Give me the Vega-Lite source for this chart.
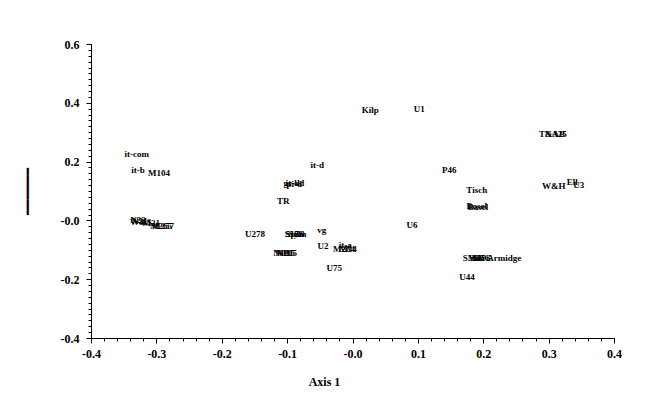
{
  "$schema": "https://vega.github.io/schema/vega-lite/v6.json",
  "autosize": "none",
  "width": 523,
  "height": 294,
  "padding": {"left": 91, "top": 44, "right": 50, "bottom": 75},
  "background": "white",
  "config": {"view": {"stroke": null}},
  "data": {"values": [
    {"label": "it-com", "x": -0.330, "y": 0.226},
    {"label": "it-b", "x": -0.328, "y": 0.171},
    {"label": "M104", "x": -0.296, "y": 0.161},
    {"label": "N22", "x": -0.328, "y": 0.001},
    {"label": "N21", "x": -0.325, "y": -0.002},
    {"label": "W&S", "x": -0.324, "y": -0.005},
    {"label": "M21", "x": -0.308, "y": -0.009},
    {"label": "M265", "x": -0.293, "y": -0.019},
    {"label": "M257", "x": -0.290, "y": -0.019},
    {"label": "it-d", "x": -0.054, "y": 0.188},
    {"label": "gr-d", "x": -0.093, "y": 0.127},
    {"label": "it-kd", "x": -0.088, "y": 0.127},
    {"label": "pi-d", "x": -0.089, "y": 0.124},
    {"label": "TR", "x": -0.106, "y": 0.066},
    {"label": "U278", "x": -0.149, "y": -0.046},
    {"label": "S17", "x": -0.093, "y": -0.046},
    {"label": "Sp18", "x": -0.088, "y": -0.046},
    {"label": "Sylv", "x": -0.085, "y": -0.046},
    {"label": "Sm", "x": -0.080, "y": -0.046},
    {"label": "vg", "x": -0.047, "y": -0.033},
    {"label": "N101", "x": -0.106, "y": -0.111},
    {"label": "N115", "x": -0.103, "y": -0.111},
    {"label": "N205", "x": -0.100, "y": -0.111},
    {"label": "U2", "x": -0.045, "y": -0.087},
    {"label": "it-a", "x": -0.011, "y": -0.084},
    {"label": "M284", "x": -0.013, "y": -0.097},
    {"label": "M34", "x": -0.007, "y": -0.097},
    {"label": "U75", "x": -0.028, "y": -0.162},
    {"label": "Kilp", "x": 0.027, "y": 0.376},
    {"label": "U1", "x": 0.102, "y": 0.379},
    {"label": "P46", "x": 0.148, "y": 0.171},
    {"label": "Tisch", "x": 0.190, "y": 0.103},
    {"label": "Bosel", "x": 0.190, "y": 0.049},
    {"label": "Basel", "x": 0.192, "y": 0.046},
    {"label": "U6", "x": 0.091, "y": -0.016},
    {"label": "SM87", "x": 0.186, "y": -0.128},
    {"label": "S2", "x": 0.190, "y": -0.128},
    {"label": "Sturt", "x": 0.194, "y": -0.128},
    {"label": "SRG", "x": 0.198, "y": -0.128},
    {"label": "Armidge", "x": 0.232, "y": -0.128},
    {"label": "U44", "x": 0.175, "y": -0.193},
    {"label": "T&AB", "x": 0.305, "y": 0.294},
    {"label": "NA25", "x": 0.311, "y": 0.294},
    {"label": "W&H", "x": 0.308, "y": 0.117},
    {"label": "Ell", "x": 0.336, "y": 0.131},
    {"label": "U3", "x": 0.346, "y": 0.120}
  ]},
  "resolve": {"axis": {"x": "independent", "y": "independent"}},
  "layer": [
    {
      "mark": {"type": "text", "font": "Liberation Serif", "fontWeight": "bold", "fontSize": 9, "color": "black", "baseline": "middle", "align": "center"},
      "encoding": {
        "x": {"field": "x", "type": "quantitative", "scale": {"domain": [-0.4, 0.4], "nice": false, "zero": false},
          "axis": {"orient": "bottom", "values": [-0.4, -0.3, -0.2, -0.1, 0, 0.1, 0.2, 0.3, 0.4], "grid": false,
            "labelExpr": "datum.value == 0 ? '-0.0' : replace(format(datum.value, '.1f'), '−', '-')",
            "labelFont": "Liberation Serif", "labelFontWeight": "bold", "labelFontSize": 12, "labelColor": "black",
            "labelPadding": 5, "tickSize": 5, "tickColor": "black", "domainColor": "black", "labelFlush": false,
            "title": "Axis 1", "titleFont": "Liberation Serif", "titleFontWeight": "bold", "titleFontSize": 12, "titleColor": "black",
            "titleX": 233, "titleY": 43, "titleBaseline": "middle", "titleAlign": "center"}},
        "y": {"field": "y", "type": "quantitative", "scale": {"domain": [-0.4, 0.6], "nice": false, "zero": false},
          "axis": {"orient": "left", "values": [-0.4, -0.2, 0, 0.2, 0.4, 0.6], "grid": false,
            "labelExpr": "datum.value == 0 ? '-0.0' : replace(format(datum.value, '.1f'), '−', '-')",
            "labelFont": "Liberation Serif", "labelFontWeight": "bold", "labelFontSize": 12, "labelColor": "black",
            "labelPadding": 7, "tickSize": 5, "tickColor": "black", "domainColor": "black", "labelFlush": false,
            "title": "━━━━━━", "titleFont": "DejaVu Sans Mono", "titleFontWeight": "normal", "titleFontSize": 13, "titleColor": "black",
            "titleX": -64, "titleY": 147, "titleAngle": -90, "titleAlign": "center", "titleBaseline": "middle"}},
        "text": {"field": "label", "type": "nominal"}
      }
    },
    {
      "mark": {"type": "point", "opacity": 0},
      "encoding": {
        "x": {"field": "x", "type": "quantitative",
          "axis": {"orient": "bottom", "values": [-0.4,-0.38,-0.36,-0.34,-0.32,-0.3,-0.28,-0.26,-0.24,-0.22,-0.2,-0.18,-0.16,-0.14,-0.12,-0.1,-0.08,-0.06,-0.04,-0.02,0,0.02,0.04,0.06,0.08,0.1,0.12,0.14,0.16,0.18,0.2,0.22,0.24,0.26,0.28,0.3,0.32,0.34,0.36,0.38,0.4],
            "labels": false, "grid": false, "tickSize": 3, "tickColor": "black", "domain": false, "title": null}},
        "y": {"field": "y", "type": "quantitative",
          "axis": {"orient": "left", "values": [-0.4,-0.38,-0.36,-0.34,-0.32,-0.3,-0.28,-0.26,-0.24,-0.22,-0.2,-0.18,-0.16,-0.14,-0.12,-0.1,-0.08,-0.06,-0.04,-0.02,0,0.02,0.04,0.06,0.08,0.1,0.12,0.14,0.16,0.18,0.2,0.22,0.24,0.26,0.28,0.3,0.32,0.34,0.36,0.38,0.4,0.42,0.44,0.46,0.48,0.5,0.52,0.54,0.56,0.58,0.6],
            "labels": false, "grid": false, "tickSize": 3, "tickColor": "black", "domain": false, "title": null}}
      }
    }
  ]
}
